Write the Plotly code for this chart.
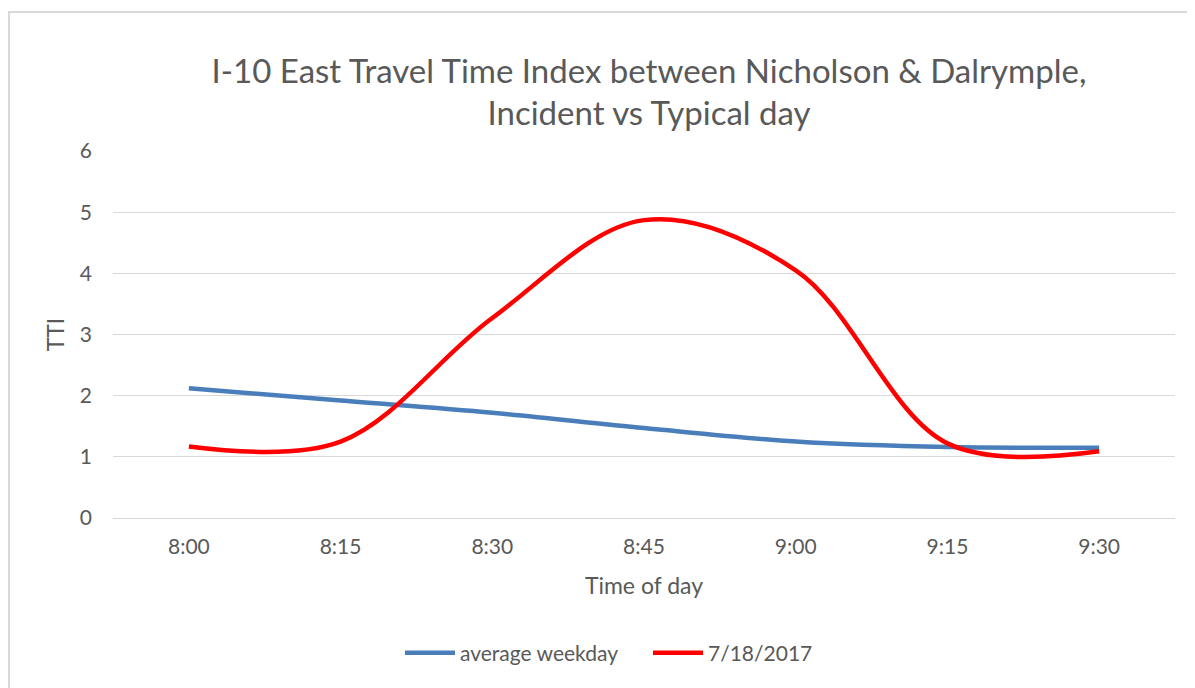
import plotly.graph_objects as go

# Data
tick_minutes = [0, 15, 30, 45, 60, 75, 90]
tick_labels = ["8:00", "8:15", "8:30", "8:45", "9:00", "9:15", "9:30"]

avg_minutes = [0, 15, 30, 45, 60, 75, 90]
avg_tti = [2.12, 1.92, 1.72, 1.47, 1.25, 1.16, 1.15]

inc_minutes = [0, 15, 30, 45, 60, 75, 90]
inc_tti = [1.17, 1.25, 3.27, 4.87, 4.05, 1.22, 1.09]

# page has an 8px body margin; figure coords = page coords - 8
W, H = 1187, 680
ml, mr, mt, mb = 105, 20, 143, 170
pw = W - ml - mr
ph = H - mt - mb

fig = go.Figure()
fig.add_trace(go.Scatter(x=avg_minutes, y=avg_tti, mode="lines", name="average weekday",
                         line=dict(color="#4a7ebb", width=4.5, shape="spline", smoothing=1.0)))
fig.add_trace(go.Scatter(x=inc_minutes, y=inc_tti, mode="lines", name="7/18/2017",
                         line=dict(color="#ff0000", width=4.5, shape="spline", smoothing=1.0)))

font_family = "Lato, Open Sans, sans-serif"
grey = "#595959"

# chart border (paper coords relative to plot area)
fig.add_shape(type="rect", xref="paper", yref="paper",
              x0=(1 - ml) / pw, x1=(W + 10 - ml) / pw,
              y0=-(mb + 10) / ph, y1=1 + (mt - 4) / ph,
              line=dict(color="#d9d9d9", width=2),
              fillcolor="rgba(0,0,0,0)", layer="below")

fig.update_layout(
    width=W, height=H,
    margin=dict(l=ml, r=mr, t=mt, b=mb),
    paper_bgcolor="white", plot_bgcolor="white",
    font=dict(family=font_family, color=grey, size=20),
    title=dict(text="I-10 East Travel Time Index between Nicholson & Dalrymple,<br>Incident vs Typical day",
               x=641 / W, xanchor="center", y=1 - 74.5 / H, yanchor="middle",
               font=dict(size=33, color=grey, family=font_family)),
    xaxis=dict(range=[-7.5, 97.5], tickmode="array", tickvals=tick_minutes, ticktext=tick_labels,
               showgrid=False, zeroline=False, showline=False, ticks="",
               tickfont=dict(size=21, color=grey), ticklabelstandoff=14,
               title=dict(text="Time of day", font=dict(size=23, color=grey), standoff=20)),
    yaxis=dict(range=[0, 6], dtick=1, showgrid=True, gridcolor="#d9d9d9", gridwidth=1.3,
               zeroline=True, zerolinecolor="#d9d9d9", zerolinewidth=1.3, showline=False, ticks="",
               tickfont=dict(size=21, color=grey), ticklabelstandoff=20,
               title=dict(text="TTI", font=dict(size=23, color=grey), standoff=8)),
    legend=dict(orientation="h", x=(640 - ml) / pw, xanchor="center", y=-135 / ph,
                yanchor="middle", font=dict(size=21, color=grey), itemwidth=50,
                entrywidth=183, traceorder="normal"),
    showlegend=True,
)

fig.write_html("out.html")
